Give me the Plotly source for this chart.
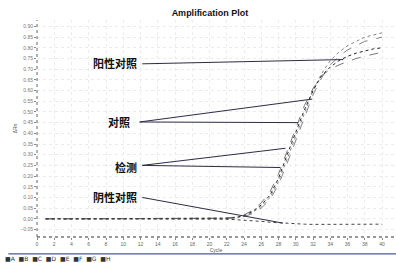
import plotly.graph_objects as go

cycles = list(range(1, 41))

pos_ctrl = [0.000, 0.001, 0.000, 0.000, -0.001, 0.000, 0.001, 0.000, 0.000, 0.000,
            0.000, 0.001, 0.000, 0.000, 0.000, 0.000, 0.001, 0.000, 0.000, 0.001,
            0.002, 0.003, 0.005, 0.012, 0.030, 0.058, 0.100, 0.175, 0.280, 0.390,
            0.500, 0.600, 0.680, 0.740, 0.780, 0.810, 0.830, 0.850, 0.860, 0.870]
ctrl = [0.000, 0.000, 0.001, 0.000, 0.000, 0.000, 0.000, 0.001, 0.000, 0.000,
        0.000, 0.000, 0.000, 0.001, 0.000, 0.000, 0.000, 0.000, 0.001, 0.002,
        0.003, 0.004, 0.008, 0.018, 0.040, 0.075, 0.125, 0.210, 0.320, 0.430,
        0.530, 0.610, 0.670, 0.700, 0.720, 0.735, 0.750, 0.760, 0.770, 0.780]
test_a = [0.000, 0.000, 0.000, 0.001, 0.000, 0.000, 0.000, 0.000, 0.001, 0.000,
          0.000, 0.000, 0.001, 0.000, 0.000, 0.000, 0.000, 0.001, 0.000, 0.001,
          0.002, 0.003, 0.006, 0.015, 0.035, 0.065, 0.110, 0.190, 0.300, 0.410,
          0.510, 0.600, 0.670, 0.710, 0.740, 0.760, 0.775, 0.785, 0.795, 0.800]
test_b = [0.000, 0.001, 0.000, 0.000, 0.000, 0.001, 0.000, 0.000, 0.000, 0.000,
          0.001, 0.000, 0.000, 0.000, 0.001, 0.000, 0.000, 0.000, 0.000, 0.001,
          0.001, 0.002, 0.004, 0.010, 0.025, 0.050, 0.090, 0.160, 0.260, 0.370,
          0.480, 0.580, 0.660, 0.720, 0.760, 0.790, 0.810, 0.830, 0.840, 0.850]
neg_ctrl = [0.000, 0.000, 0.000, 0.000, 0.001, 0.000, 0.000, 0.000, 0.000, 0.000,
            0.000, 0.000, 0.000, 0.000, 0.000, 0.001, 0.000, 0.000, 0.000, 0.000,
            -0.001, -0.002, -0.004, -0.006, -0.009, -0.012, -0.016, -0.019, -0.022, -0.024,
            -0.025, -0.026, -0.026, -0.027, -0.027, -0.027, -0.026, -0.026, -0.025, -0.025]
threshold = 0.25

x_ticks = list(range(0, 41, 2))
y_ticks = [-0.05, 0.00, 0.05, 0.10, 0.15, 0.20, 0.25, 0.30, 0.35, 0.40, 0.45,
           0.50, 0.55, 0.60, 0.65, 0.70, 0.75, 0.80, 0.85, 0.90]
rows = ["A", "B", "C", "D", "E", "F", "G", "H"]

# annotation labels: (text, label x, label y, line start x, line start y, [leader line end points])
labels = [
    ("阳性对照", 11.8, 0.73, 12.2, 0.725, [(35.5, 0.745)]),
    ("对照", 11.0, 0.453, 11.9, 0.453, [(31.9, 0.56), (30.3, 0.45)]),
    ("检测", 11.8, 0.243, 12.2, 0.25, [(28.8, 0.33), (28.2, 0.24)]),
    ("阴性对照", 11.8, 0.103, 12.2, 0.10, [(28.5, -0.02)]),
]

fig = go.Figure()
series = [
    (pos_ctrl, "#777777", "dot", 0.9),
    (test_b, "#666666", "dash", 0.8),
    (test_a, "#222222", "dot", 1.0),
    (ctrl, "#555555", "dash", 0.8),
    (neg_ctrl, "#444444", "dot", 1.0),
]
for vals, col, dash, w in series:
    fig.add_trace(go.Scatter(x=cycles, y=vals, mode="lines",
                             line=dict(color=col, width=w, dash=dash),
                             showlegend=False, hoverinfo="skip"))

# threshold line
fig.add_shape(type="line", xref="paper", yref="y", x0=0, x1=1, y0=threshold, y1=threshold,
              line=dict(color="#d4d4d4", width=1, dash="dot"), layer="below")

# leader lines and labels
for text, lx, ly, sx, sy, ends in labels:
    fig.add_annotation(x=lx, y=ly, xref="x", yref="y", text="<b>" + text + "</b>",
                       showarrow=False, xanchor="right", yanchor="middle",
                       font=dict(family="Noto Sans CJK SC", size=11, color="#111111"))
    for ex, ey in ends:
        fig.add_shape(type="line", xref="x", yref="y", x0=sx, y0=sy, x1=ex, y1=ey,
                      line=dict(color="#2c2c48", width=1))

# dotted axis lines
fig.add_shape(type="line", xref="paper", yref="paper", x0=0, x1=0, y0=0, y1=1,
              line=dict(color="#666666", width=1, dash="dot"))
fig.add_shape(type="line", xref="paper", yref="paper", x0=0, x1=1, y0=0, y1=0,
              line=dict(color="#333333", width=1.2, dash="dot"))

# separator line at bottom
fig.add_shape(type="line", xref="paper", yref="paper", x0=-0.08, x1=1.01, y0=-0.078, y1=-0.078,
              line=dict(color="#4a5a9a", width=1.2))

# row legend
legend_text = "  ".join("■" + r for r in rows)
fig.add_annotation(x=-0.095, y=-0.099, xref="paper", yref="paper", text=legend_text,
                   showarrow=False, xanchor="left", yanchor="middle",
                   font=dict(family="DejaVu Sans", size=6, color="#333333"))

fig.update_layout(
    width=396, height=263,
    margin=dict(l=37, r=1, t=20, b=26),
    paper_bgcolor="white", plot_bgcolor="white",
    title=dict(text="<b>Amplification Plot</b>", x=0.53, xanchor="center", y=0.95,
               yanchor="middle", font=dict(family="Liberation Sans", size=9, color="#111111")),
    font=dict(family="Liberation Sans"),
)
fig.update_xaxes(range=[0, 41.5], tickvals=x_ticks, ticks="outside", ticklen=2,
                 tickcolor="#888888", tickfont=dict(size=5, color="#666666"),
                 showgrid=True, gridcolor="#ececec", griddash="dot", zeroline=False,
                 showline=False, automargin=False,
                 title=dict(text="Cycle", font=dict(size=5, color="#555555"), standoff=0))
fig.update_yaxes(range=[-0.085, 0.93], tickvals=y_ticks, tickformat=".2f", ticks="outside",
                 ticklen=2, tickcolor="#888888", tickfont=dict(size=5, color="#777777"),
                 showgrid=True, gridcolor="#ececec", griddash="dot", zeroline=False,
                 showline=False, automargin=False,
                 title=dict(text="ΔRn", font=dict(size=5, color="#555555"), standoff=2))

fig.write_html("out.html", config={"displayModeBar": False},
               post_script="document.body.style.margin='0';")
